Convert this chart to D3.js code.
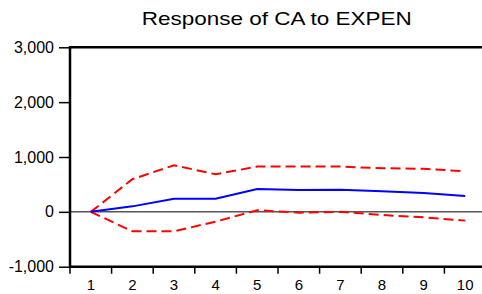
<!DOCTYPE html>
<html><head><meta charset="utf-8">
<script src="https://cdn.jsdelivr.net/npm/d3@7"></script>
<style>html,body{margin:0;padding:0;background:#fff;overflow:hidden}</style>
</head><body>
<svg id="c" width="482" height="294"></svg>
<script>
const periods = [1,2,3,4,5,6,7,8,9,10];
const response = [0,100,240,240,418,400,405,375,345,290];
const upperBand = [0,595,850,685,825,825,825,795,785,740];
const lowerBand = [0,-355,-355,-178,30,-15,0,-57,-100,-160];
const yTicks = [-1000,0,1000,2000,3000];
const title = "Response of CA to EXPEN";

const svg = d3.select("#c");
const font = "'Liberation Sans', Arial, sans-serif";
const x = d3.scaleBand().domain(periods).range([70, 486]);
const y = d3.scaleLinear().domain([-1000, 3000]).range([266.7, 47.3]);
const cx = d => x(d) + x.bandwidth()/2;
const fmt = d => d3.format(",")(d).replace("\u2212", "-");

// title
svg.append("text").attr("x", 141.7).attr("y", 24.5)
  .attr("font-family", font).attr("font-size", 19).attr("fill", "#000")
  .attr("textLength", 270).attr("lengthAdjust", "spacingAndGlyphs")
  .text(title);

// zero line
svg.append("line").attr("x1", 70).attr("x2", 482).attr("y1", y(0)).attr("y2", y(0))
  .attr("stroke", "#000").attr("stroke-width", 1);

// y axis
const yAxis = svg.append("g").attr("transform", "translate(70,0)")
  .call(d3.axisLeft(y).tickValues(yTicks).tickFormat(fmt).tickSize(11).tickPadding(5));
yAxis.select(".domain").remove();
yAxis.selectAll(".tick line").attr("stroke", "#000").attr("stroke-width", 1.5);
yAxis.selectAll(".tick text").attr("font-family", font).attr("font-size", 16).attr("fill", "#000");

// x axis ticks at band boundaries
const xAxis = svg.append("g").attr("transform", `translate(0,${y(-1000)})`)
  .call(d3.axisBottom(x).tickSize(0).tickPadding(13));
xAxis.select(".domain").remove();
xAxis.selectAll(".tick text").attr("font-family", font).attr("font-size", 15).attr("fill", "#000");
svg.append("g").selectAll("line").data(periods).join("line")
  .attr("x1", d => x(d)).attr("x2", d => x(d))
  .attr("y1", y(-1000)).attr("y2", y(-1000) + 7)
  .attr("stroke", "#000").attr("stroke-width", 1.5);

// frame
svg.append("line").attr("x1", 70).attr("x2", 70).attr("y1", y(3000) - 1.2).attr("y2", y(-1000) + 1.2)
  .attr("stroke", "#000").attr("stroke-width", 2.5);
svg.append("line").attr("x1", 69).attr("x2", 482).attr("y1", y(3000)).attr("y2", y(3000))
  .attr("stroke", "#000").attr("stroke-width", 2.5);
svg.append("line").attr("x1", 69).attr("x2", 482).attr("y1", y(-1000)).attr("y2", y(-1000))
  .attr("stroke", "#000").attr("stroke-width", 2.5);

const line = d3.line().x((d, i) => cx(periods[i])).y(d => y(d));
svg.append("path").datum(upperBand).attr("d", line).attr("fill", "none")
  .attr("stroke", "#ff0000").attr("stroke-width", 2).attr("stroke-dasharray", "10,5");
svg.append("path").datum(lowerBand).attr("d", line).attr("fill", "none")
  .attr("stroke", "#ff0000").attr("stroke-width", 2).attr("stroke-dasharray", "10,5");
svg.append("path").datum(response).attr("d", line).attr("fill", "none")
  .attr("stroke", "#0000ff").attr("stroke-width", 2);
</script>
</body></html>
